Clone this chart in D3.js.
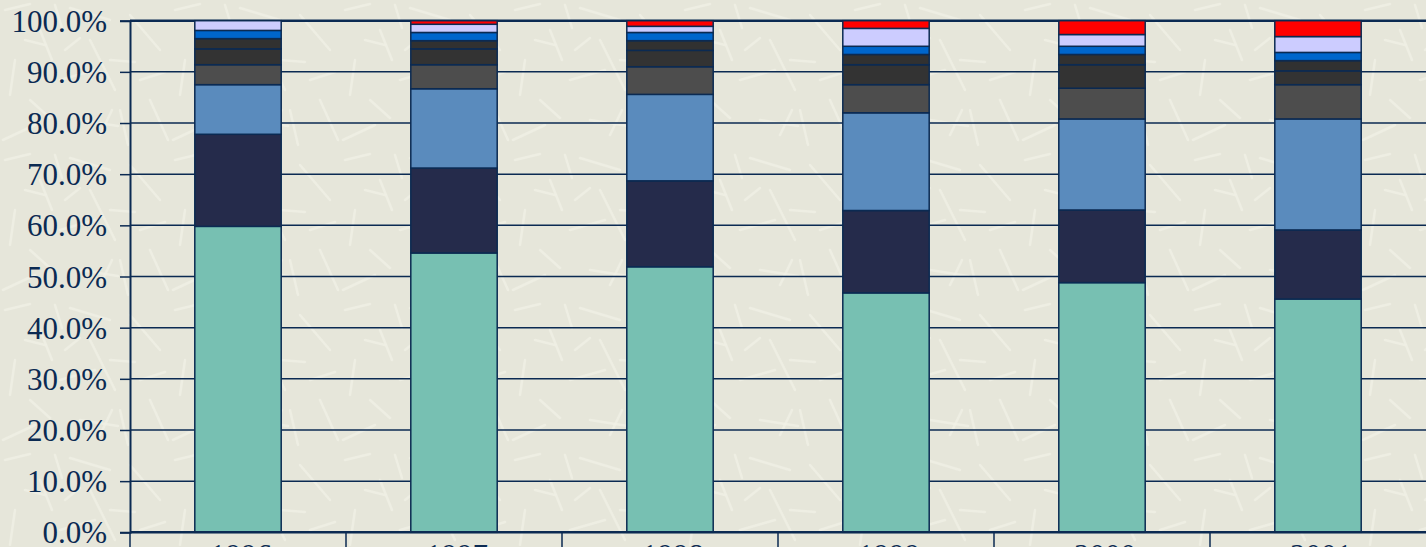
<!DOCTYPE html>
<html lang="en">
    <head>
        <meta charset="utf-8">
        <title>Stacked share by year</title>
        <style type="text/css">
            html, body { margin: 0; padding: 0; background: #e7e7db; overflow: hidden; }
            svg { display: block; }
        </style>
    </head>
    <body>

<script src="https://d3js.org/d3.v7.min.js"></script>
<script>

    // data (share of each year, bottom to top)
    var years = ["1996", "1997", "1998", "1999", "2000", "2001"];
    var yTicks = [0, 10, 20, 30, 40, 50, 60, 70, 80, 90, 100];

    var s1 = [59.8, 54.6, 51.9, 46.8, 48.8, 45.6];
    var s2 = [18.0, 16.6, 16.8, 16.1, 14.2, 13.5];
    var s3 = [9.7, 15.5, 16.9, 19.1, 17.8, 21.7];
    var s4 = [3.9, 4.7, 5.4, 5.5, 6.0, 6.7];
    var s5 = [3.1, 3.1, 3.2, 3.9, 4.6, 2.7];
    var s6 = [2.0, 1.6, 1.9, 2.0, 2.0, 2.0];
    var s7 = [1.6, 1.6, 1.6, 1.6, 1.6, 1.6];
    var s8 = [1.9, 1.6, 1.2, 3.5, 2.3, 3.1];
    var s9 = [0.0, 0.7, 1.1, 1.5, 2.7, 3.1];

    var seriesValues = [s1, s2, s3, s4, s5, s6, s7, s8, s9];
    var seriesColors = ["#77c0b2", "#252b4b", "#5a8bbd", "#4d4d4d", "#333333",
                        "#313131", "#0066cc", "#ccccff", "#ff0000"];

    var w = 1426;
    var h = 547;
    var plotL = 130, plotT = 20.7, plotB = 532.3, plotR = 1426;
    var navy = "#0b2a52";

    var svg = d3.select("body")
            .append("svg")
            .attr("width", w)
            .attr("height", h);

    // light scratchy paper texture for the background
    var pat = svg.append("defs").append("pattern")
        .attr("id", "paper")
        .attr("patternUnits", "userSpaceOnUse")
        .attr("width", 170)
        .attr("height", 150);
    pat.append("rect").attr("width", 170).attr("height", 150).attr("fill", "#e6e6da");
    var strokes = [[5, 10, 30, 4], [40, 30, 52, 60], [70, 8, 110, 20], [15, 60, 10, 95],
                   [60, 80, 95, 70], [90, 40, 115, 90], [25, 40, 45, 45], [80, 120, 118, 126],
                   [3, 140, 35, 125], [55, 5, 62, 28], [130, 15, 160, 50], [140, 80, 165, 72],
                   [120, 110, 128, 145], [150, 100, 168, 140], [30, 100, 50, 118],
                   [100, 135, 112, 110], [65, 50, 80, 38], [110, 60, 135, 62]];
    pat.selectAll("line")
        .data(strokes)
        .enter()
        .append("line")
        .attr("x1", function(d) { return d[0]; })
        .attr("y1", function(d) { return d[1]; })
        .attr("x2", function(d) { return d[2]; })
        .attr("y2", function(d) { return d[3]; })
        .attr("stroke", "#f0f0e5")
        .attr("stroke-opacity", 0.75)
        .attr("stroke-width", 2.5)
        .attr("stroke-linecap", "round");
    svg.append("rect").attr("width", w).attr("height", h).attr("fill", "url(#paper)");

    var x = d3.scaleBand()
        .domain(years)
        .range([plotL, plotR]);

    var y = d3.scaleLinear()
        .domain([0, 100])
        .range([plotB, plotT]);

    // gridlines
    svg.append("g")
        .selectAll("line")
        .data(yTicks)
        .enter()
        .append("line")
        .attr("x1", plotL)
        .attr("x2", plotR)
        .attr("y1", function(d) { return y(d); })
        .attr("y2", function(d) { return y(d); })
        .attr("stroke", navy)
        .attr("stroke-width", function(d) { return d === 100 ? 2.5 : 1.5; });

    // stack the rows
    var rows = years.map(function(yr, i) {
        var r = { year: yr };
        seriesValues.forEach(function(s, k) { r["s" + k] = s[i]; });
        return r;
    });
    var keys = seriesValues.map(function(s, k) { return "s" + k; });
    var stacked = d3.stack().keys(keys)(rows);

    var barW = x.bandwidth() * 0.4;

    svg.append("g")
        .selectAll("g")
        .data(stacked)
        .enter()
        .append("g")
        .attr("fill", function(d, k) { return seriesColors[k]; })
        .selectAll("rect")
        .data(function(d) { return d.filter(function(p) { return p[1] - p[0] > 0; }); })
        .enter()
        .append("rect")
        .attr("x", function(d) { return x(d.data.year) + (x.bandwidth() - barW) / 2; })
        .attr("y", function(d) { return y(d[1]); })
        .attr("width", barW)
        .attr("height", function(d) { return y(d[0]) - y(d[1]); })
        .attr("stroke", navy)
        .attr("stroke-width", 1.5);

    // y axis
    var yAxis = d3.axisLeft(y)
        .tickValues(yTicks)
        .tickSize(10)
        .tickPadding(13)
        .tickFormat(function(d) { return d.toFixed(1) + "%"; });

    var gy = svg.append("g")
        .attr("transform", "translate(" + plotL + ",0)")
        .call(yAxis);
    gy.select(".domain").attr("stroke", navy).attr("stroke-width", 2);
    gy.selectAll(".tick line").attr("stroke", navy).attr("stroke-width", 1.5);
    gy.selectAll("text")
        .attr("fill", "#0b2a52")
        .attr("font-family", "'Liberation Serif', 'Times New Roman', serif")
        .attr("font-size", 31)
        .attr("dy", "0.34em");

    // x axis, ticks between categories
    var gx = svg.append("g")
        .attr("transform", "translate(0," + plotB + ")");
    gx.append("line")
        .attr("x1", plotL)
        .attr("x2", plotR)
        .attr("stroke", navy)
        .attr("stroke-width", 2.5);
    gx.selectAll("line.sep")
        .data(years)
        .enter()
        .append("line")
        .attr("class", "sep")
        .attr("x1", function(d) { return x(d); })
        .attr("x2", function(d) { return x(d); })
        .attr("y1", 0)
        .attr("y2", 20)
        .attr("stroke", navy)
        .attr("stroke-width", 1.5);
    gx.selectAll("text")
        .data(years)
        .enter()
        .append("text")
        .attr("x", function(d) { return x(d) + x.bandwidth() / 2 + 3; })
        .attr("y", 34)
        .attr("text-anchor", "middle")
        .attr("fill", "#0b2a52")
        .attr("font-family", "'Liberation Serif', 'Times New Roman', serif")
        .attr("font-size", 31)
        .text(function(d) { return d; });

</script>

    </body>
</html>
